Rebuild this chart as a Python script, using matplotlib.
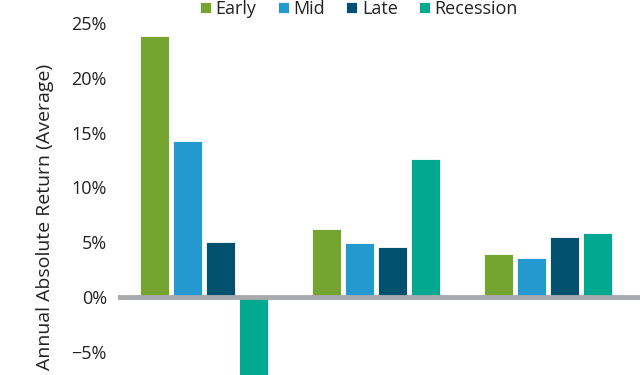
import matplotlib
matplotlib.use("Agg")
import matplotlib.pyplot as plt
import numpy as np

plt.rcParams['font.family'] = ['Open Sans', 'DejaVu Sans']

groups = ["Group 1", "Group 2", "Group 3"]
series = ["Early", "Mid", "Late", "Recession"]
early = [23.8, 6.25, 3.95]
mid = [14.25, 4.93, 3.62]
late = [5.05, 4.61, 5.48]
recession = [-8.5, 12.56, 5.84]
colors = ["#76A431", "#2399D0", "#00506E", "#00A98F"]
yticks = [-5, 0, 5, 10, 15, 20, 25]
ytick_labels = ["\u22125%", "0%", "5%", "10%", "15%", "20%", "25%"]

fig = plt.figure(figsize=(6.4, 3.75), dpi=100)
ax = fig.add_axes([118/640, 0, 522/640, 1])

x = np.arange(len(groups))
step = 0.192
width = 0.172
offsets = np.array([-1.5, -0.5, 0.5, 1.5]) * step
for vals, col, off, name in zip([early, mid, late, recession], colors, offsets, series):
    ax.bar(x + off, vals, width=width, color=col, edgecolor="#ffffff", linewidth=0.6,
           label=name, zorder=2)

ax.axhline(0, color="#A7A9AC", linewidth=3.5, zorder=3)
ax.set_xlim(-0.5, 2.535)
ax.set_ylim(-7.05, 27.05)
ax.set_yticks(yticks)
ax.set_yticklabels(ytick_labels, fontsize=13, color="#222222")
ax.tick_params(axis='y', length=0, pad=8)
ax.set_xticks([])
for s in ax.spines.values():
    s.set_visible(False)

fig.text(45/640, 1 - 217/375, "Annual Absolute Return (Average)", rotation=90,
         ha="center", va="center", fontsize=14, color="#222222")

leg = fig.legend(loc="center", bbox_to_anchor=(359/640, 1 - 9/375), ncol=4, frameon=False,
                 fontsize=13, handlelength=0.6, handleheight=0.6, handletextpad=0.25,
                 columnspacing=1.2, labelcolor="#222222", borderpad=0)

fig.savefig("out.png", dpi=100)
